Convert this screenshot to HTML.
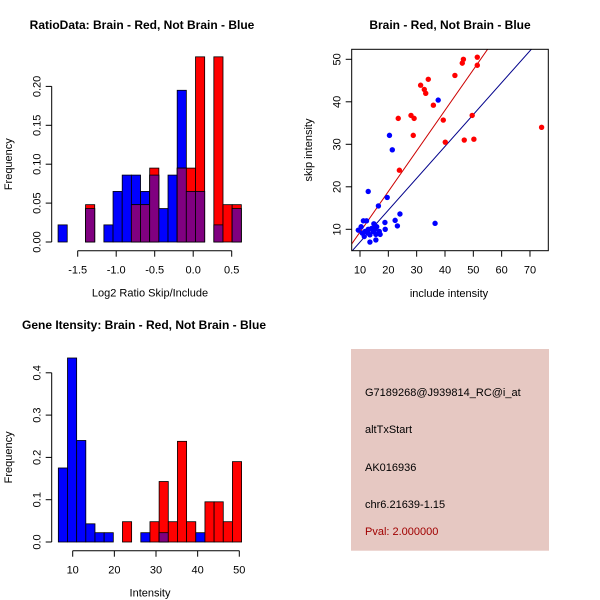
<!DOCTYPE html>
<html><head><meta charset="utf-8"><style>
html,body{margin:0;padding:0;background:#fff;}
svg{display:block;font-family:"Liberation Sans",sans-serif;}
</style></head><body>
<svg id="chart" width="600" height="600" xmlns="http://www.w3.org/2000/svg"></svg>
<script>
// ---------- data ----------
const ratioBinStart = -1.755;
const ratioBinWidth = 0.119;
const ratioBlue = [0.022,0,0,0.043,0,0.022,0.065,0.086,0.086,0.065,0.086,0.043,0.086,0.195,0.065,0.065,0,0.022,0,0.043];
const ratioRed  = [0,0,0,0.048,0,0,0,0,0.048,0.048,0.095,0,0,0.095,0.095,0.238,0,0.238,0.048,0.048];
const ratioXTicks = [-1.5,-1.0,-0.5,0.0,0.5];
const ratioXTickLabels = ["-1.5","-1.0","-0.5","0.0","0.5"];
const ratioYTicks = [0,0.05,0.10,0.15,0.20];
const ratioYTickLabels = ["0.00","0.05","0.10","0.15","0.20"];

const intBinStart = 6.55;
const intBinWidth = 2.2;
const intBlue = [0.175,0.435,0.24,0.043,0.022,0.022,0,0,0,0.022,0,0.022,0,0,0,0.022,0,0,0,0];
const intRed  = [0,0,0,0,0,0,0,0.048,0,0,0.048,0.143,0.048,0.238,0.048,0,0.095,0.095,0.048,0.19];
const intXTicks = [10,20,30,40,50];
const intYTicks = [0,0.1,0.2,0.3,0.4];
const intYTickLabels = ["0.0","0.1","0.2","0.3","0.4"];

const redX = [74.1,51.4,51.4,46.5,46.1,43.5,34.1,31.4,32.7,33.2,35.9,28,29.1,23.5,39.4,49.6,28.8,40.1,46.8,50.2,23.9];
const redY = [34,50.5,48.6,50,49.1,46.2,45.3,43.9,42.9,42,39.2,36.8,36.1,36.1,35.7,36.8,32.1,30.5,31,31.2,23.9];
const blueX = [37.6,20.4,21.4,12.9,19.6,16.5,24.1,36.5,22.4,23.2,18.8,18.9,15.6,13.5,15.6,9.4,10.4,11.2,12.3,11.8,12.9,14.1,14.9,15.9,16.8,11.5,13.5,14.7,17.1,10.8,15.3,12.9];
const blueY = [40.4,32.1,28.7,18.9,17.5,15.5,13.6,11.4,12.1,10.8,11.6,10,8.8,7,7.5,9.8,10.6,12,12,9.5,9.1,10.2,11.3,10.6,9.5,8.3,8.7,9.5,8.8,9.1,10,10];
const scXTicks = [10,20,30,40,50,60,70];
const scYTicks = [10,20,30,40,50];
const redFit = [-0.2,0.955];   // intercept, slope
const blueFit = [-0.5,0.75];

// ---------- helpers ----------
const svg = document.getElementById('chart');
const NS = 'http://www.w3.org/2000/svg';
function mk(tag, attrs, parent){
  const e = document.createElementNS(NS, tag);
  for (const k in attrs) e.setAttribute(k, attrs[k]);
  (parent||svg).appendChild(e);
  return e;
}
function txt(s, x, y, size, opts, parent){
  opts = opts||{};
  const t = mk('text', {x:x, y:y, 'font-size':size, fill:opts.fill||'#000', 'text-anchor':opts.anchor||'middle'}, parent);
  if (opts.bold) t.setAttribute('font-weight','bold');
  if (opts.rot) t.setAttribute('transform','rotate(-90 '+x+' '+y+')');
  t.textContent = s;
  return t;
}

// ---------- histogram ----------
function histogram(cfg){
  const g = mk('g', {});
  
  
  const sx = v => cfg.x0 + (v - cfg.xv0) * cfg.kx;
  const sy = v => cfg.base - v * cfg.ky;
  for (let i = 0; i < cfg.blue.length; i++) {
    const a = cfg.binStart + i*cfg.binWidth, b = a + cfg.binWidth;
    const x1 = sx(a), x2 = sx(b);
    const layers = [[cfg.blue[i],'#0000ff','blue'],[cfg.red[i],'#ff0000','red'],[Math.min(cfg.blue[i],cfg.red[i]),'#800080','overlap']];
    for (const [v,c,n] of layers) {
      if (v <= 0) continue;
      const r = mk('rect', {x:x1, y:sy(v), width:x2-x1, height:sy(0)-sy(v), fill:c, stroke:'#000', 'stroke-width':0.8}, g);
      
      
    }
  }
  // y axis
  const ya = mk('g', {}, g);
  
  
  const yt = cfg.yTicks;
  mk('line', {x1:cfg.yAxisX, x2:cfg.yAxisX, y1:sy(yt[0]), y2:sy(yt[yt.length-1]), stroke:'#000'}, ya);
  yt.forEach((v,i)=>{
    mk('line', {x1:cfg.yAxisX-6, x2:cfg.yAxisX, y1:sy(v), y2:sy(v), stroke:'#000'}, ya);
    txt(cfg.yLabels[i], cfg.yAxisX-11, sy(v), 11, {rot:true}, ya);
  });
  // x axis
  const xa = mk('g', {}, g);
  
  
  const xt = cfg.xTicks;
  mk('line', {x1:sx(xt[0]), x2:sx(xt[xt.length-1]), y1:cfg.xAxisY, y2:cfg.xAxisY, stroke:'#000'}, xa);
  xt.forEach((v,i)=>{
    mk('line', {x1:sx(v), x2:sx(v), y1:cfg.xAxisY, y2:cfg.xAxisY+6, stroke:'#000'}, xa);
    txt(cfg.xLabels[i], sx(v), cfg.xAxisY+23, 11, {}, xa);
  });
  const xt2 = txt(cfg.xTitle, cfg.xTitleX, cfg.xAxisY+46, 11, {}, g);
  
  
  const yt2 = txt('Frequency', 12, (sy(yt[0])+sy(yt[yt.length-1]))/2, 11, {rot:true}, g);
  
  
}

histogram({name:'ratio-histogram', blue:ratioBlue, red:ratioRed, binStart:ratioBinStart, binWidth:ratioBinWidth,
  x0:77.7, xv0:-1.5, kx:77, base:242, ky:778, yAxisX:51.7, xAxisY:250.7,
  xTicks:ratioXTicks, xLabels:ratioXTickLabels, yTicks:ratioYTicks, yLabels:ratioYTickLabels,
  xTitle:'Log2 Ratio Skip/Include', xTitleX:150});
histogram({name:'intensity-histogram', blue:intBlue, red:intRed, binStart:intBinStart, binWidth:intBinWidth,
  x0:72.7, xv0:10, kx:4.165, base:542, ky:423, yAxisX:51.7, xAxisY:550.7,
  xTicks:intXTicks, xLabels:intXTicks.map(String), yTicks:intYTicks, yLabels:intYTickLabels,
  xTitle:'Intensity', xTitleX:150});

let t;
t = txt('RatioData: Brain - Red, Not Brain - Blue', 142, 29, 12, {bold:true});
 
t = txt('Gene Itensity: Brain - Red, Not Brain - Blue', 144, 329, 12, {bold:true});
 
t = txt('Brain - Red, Not Brain - Blue', 450, 29, 12, {bold:true});
 

// ---------- scatter ----------
(function(){
  const g = mk('g', {});
  
  
  const L=351.7, R=548.3, T=49.3, B=250.7;
  const sx = v => 360 + (v-10)*2.833;
  const sy = v => 229.3 - (v-10)*4.25;
  const ix = v => 10 + (v-360)/2.833;
  mk('clipPath', {id:'clipsc'}, g);
  const cp = g.lastChild;
  mk('rect', {x:L, y:T, width:R-L, height:B-T}, cp);
  const lg = mk('g', {'clip-path':'url(#clipsc)'}, g);
  [[redFit,'#cc0000','red-fit-line'],[blueFit,'#00008b','blue-fit-line']].forEach(([f,c,n])=>{
    const xa = ix(L), xb = ix(R);
    const l = mk('line', {x1:sx(xa), y1:sy(f[0]+f[1]*xa), x2:sx(xb), y2:sy(f[0]+f[1]*xb), stroke:c, 'stroke-width':1}, lg);
    
    
  });
  blueX.forEach((x,i)=>{
    const c = mk('circle', {cx:sx(x), cy:sy(blueY[i]), r:2.7, fill:'#0000ff'}, lg);
    
    
  });
  redX.forEach((x,i)=>{
    const c = mk('circle', {cx:sx(x), cy:sy(redY[i]), r:2.7, fill:'#ff0000'}, lg);
    
    
  });
  mk('rect', {x:L, y:T, width:R-L, height:B-T, fill:'none', stroke:'#000'}, g);
  scXTicks.forEach(v=>{
    mk('line', {x1:sx(v), x2:sx(v), y1:B, y2:B+6, stroke:'#000'}, g);
    txt(String(v), sx(v), B+23, 11, {}, g);
  });
  scYTicks.forEach(v=>{
    mk('line', {x1:L-6, x2:L, y1:sy(v), y2:sy(v), stroke:'#000'}, g);
    txt(String(v), L-11, sy(v), 11, {rot:true}, g);
  });
  let a = txt('include intensity', 449, 297, 11, {}, g);
   
  a = txt('skip intensity', 312, 150, 11, {rot:true}, g);
   
})();

// ---------- info panel ----------
(function(){
  const g = mk('g', {});
  
  
  mk('rect', {x:351, y:349, width:198, height:201.7, fill:'#e6c8c2'}, g);
  const lines = [['G7189268@J939814_RC@i_at',396,'#000','probe-id'],['altTxStart',433,'#000','event-type'],['AK016936',471,'#000','accession'],['chr6.21639-1.15',508,'#000','location'],['Pval: 2.000000',535,'#a00000','p-value']];
  lines.forEach(([s,y,c,n])=>{
    const e = txt(s, 365, y, 11, {anchor:'start', fill:c}, g);
    
    
  });
})();
</script>
</body></html>
